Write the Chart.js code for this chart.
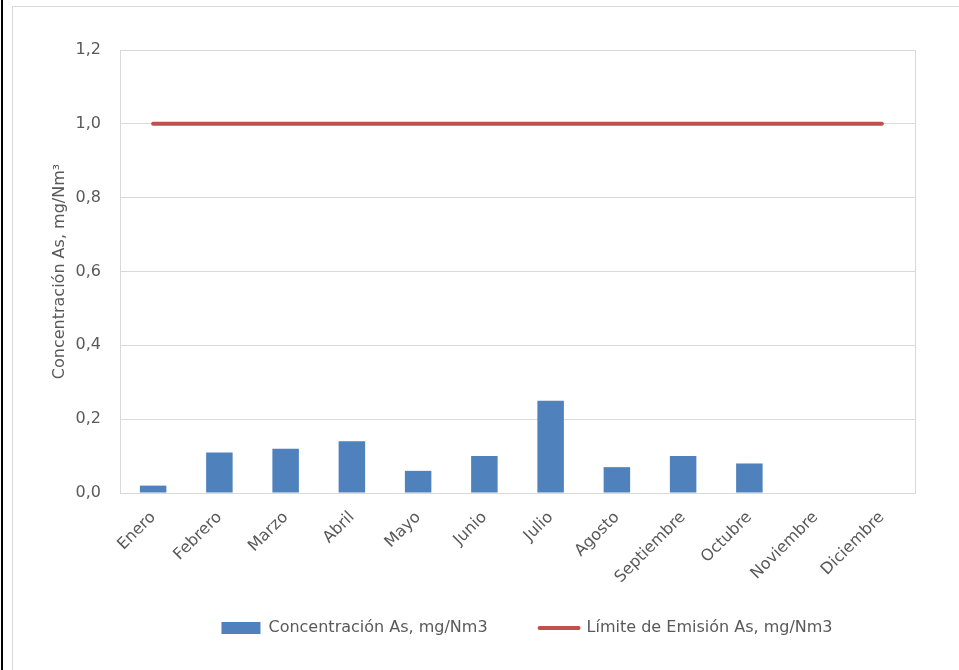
<!DOCTYPE html>
<html>
<head>
<meta charset="utf-8">
<script src="https://cdn.jsdelivr.net/npm/chart.js@4/dist/chart.umd.min.js"></script>
<style>
  html, body { margin: 0; padding: 0; background: #fff; overflow: hidden; width: 959px; height: 670px; }
  #blackEdge { position: absolute; left: 1px; top: 0; width: 2px; height: 670px; background: #000; }
  #frame { position: absolute; left: 12px; top: 6px; width: 1000px; height: 700px; border: 1px solid #D9D9D9; }
  #c { position: absolute; left: 0; top: 0; }
</style>
</head>
<body>
<div id="blackEdge"></div>
<div id="frame"></div>
<canvas id="c" width="959" height="670"></canvas>
<script>
const months = ['Enero','Febrero','Marzo','Abril','Mayo','Junio','Julio','Agosto','Septiembre','Octubre','Noviembre','Diciembre'];
const concentration = [0.02, 0.11, 0.12, 0.14, 0.06, 0.10, 0.25, 0.07, 0.10, 0.08, null, null];
const emissionLimit = [1.0, 1.0, 1.0, 1.0, 1.0, 1.0, 1.0, 1.0, 1.0, 1.0, 1.0, 1.0];
const yTickLabels = ['0,0', '0,2', '0,4', '0,6', '0,8', '1,0', '1,2'];
const seriesNames = ['Concentración As, mg/Nm3', 'Límite de Emisión As, mg/Nm3'];
const yAxisTitle = 'Concentración As, mg/Nm³';

const barColor = '#4F81BD';
const lineColor = '#C0504D';
const textColor = '#595959';
const gridColor = '#D9D9D9';
const FONT = "'DejaVu Sans', sans-serif";

const plotBorder = {
  id: 'plotBorder',
  afterDraw(chart) {
    const {ctx, chartArea: a} = chart;
    ctx.save();
    ctx.strokeStyle = gridColor;
    ctx.lineWidth = 1;
    ctx.strokeRect(Math.round(a.left) + 0.5, Math.round(a.top) + 0.5, Math.round(a.right - a.left), Math.round(a.bottom - a.top));
    ctx.restore();
  }
};
const legendShift = {
  id: 'legendShift',
  afterLayout(chart) {
    const l = chart.legend;
    if (l) { l.left += 62; l.right += 62; l.top -= 20; l.bottom -= 20; }
  }
};

new Chart(document.getElementById('c'), {
  data: {
    labels: months,
    datasets: [
      { type: 'line', label: seriesNames[1], data: emissionLimit, borderColor: lineColor, backgroundColor: lineColor,
        borderWidth: 4, pointRadius: 0, borderCapStyle: 'round', tension: 0, order: 0 },
      { type: 'bar', label: seriesNames[0], data: concentration, backgroundColor: barColor, borderWidth: 0,
        categoryPercentage: 0.8, barPercentage: 0.5, order: 1 }
    ]
  },
  options: {
    responsive: false,
    animation: false,
    devicePixelRatio: 1,
    layout: { padding: { left: 15, top: 50, right: 44, bottom: 4 } },
    plugins: {
      tooltip: { enabled: false },
      legend: {
        position: 'bottom',
        labels: {
          usePointStyle: true,
          pointStyleWidth: 39,
          boxHeight: 12,
          padding: 52,
          color: textColor,
          font: { family: FONT, size: 16 },
          generateLabels() {
            return [
              { text: seriesNames[0], fillStyle: barColor, strokeStyle: barColor, lineWidth: 0, pointStyle: 'rect', fontColor: textColor, datasetIndex: 1, hidden: false },
              { text: seriesNames[1], fillStyle: lineColor, strokeStyle: lineColor, lineWidth: 4, lineCap: 'round', pointStyle: 'line', fontColor: textColor, datasetIndex: 0, hidden: false }
            ];
          }
        }
      }
    },
    scales: {
      x: {
        grid: { display: false, drawTicks: false },
        border: { display: true, color: '#D0D0D0' },
        ticks: { color: textColor, font: { family: FONT, size: 16 }, minRotation: 45, maxRotation: 45, padding: 15, autoSkip: false },
        afterFit(s) { s.height = 95; }
      },
      y: {
        min: 0, max: 1.2,
        grid: { color: gridColor, drawTicks: false },
        border: { display: true, color: '#D0D0D0' },
        ticks: {
          stepSize: 0.2, padding: 19, color: textColor, font: { family: FONT, size: 16 },
          callback(v, i) { return yTickLabels[i]; }
        },
        title: { display: true, text: yAxisTitle, color: textColor, font: { family: FONT, size: 16 }, padding: { top: 35, bottom: 0 } },
        afterFit(s) { s.width = 105; }
      }
    }
  },
  plugins: [plotBorder, legendShift]
});
</script>
</body>
</html>
